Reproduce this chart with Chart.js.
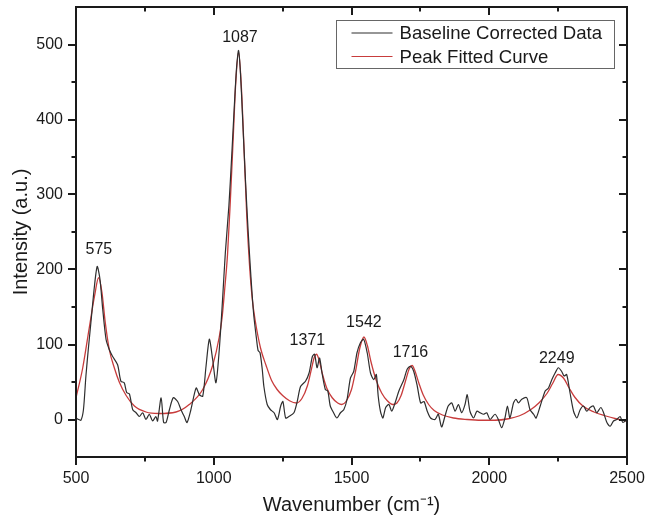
<!DOCTYPE html>
<html>
<head>
<meta charset="utf-8">
<script src="https://cdn.jsdelivr.net/npm/chart.js@4"></script>
<style>
  html, body { margin: 0; padding: 0; background: #fff; }
  #wrap { width: 645px; height: 519px; }
</style>
</head>
<body>
<div id="wrap"><canvas id="myChart" width="645" height="519"></canvas></div>
<script>
// measured spectrum (baseline corrected)
const dataWavenumber = [500, 510, 518, 527, 536, 545, 554, 567, 577, 587, 597, 609, 621, 633, 651, 663, 675, 684, 694, 706,
  718, 730, 742, 754, 766, 778, 790, 796, 809, 818, 827, 839, 853, 869, 881, 893, 903, 917, 936, 948,
  960, 972, 984, 996, 1008, 1020, 1032, 1042, 1055, 1065, 1075, 1083, 1090, 1097, 1105, 1115, 1125, 1135, 1145, 1155,
  1161, 1168, 1176, 1182, 1194, 1206, 1219, 1231, 1243, 1251, 1261, 1273, 1291, 1303, 1315, 1333, 1346, 1358, 1366, 1375,
  1384, 1393, 1405, 1414, 1423, 1435, 1447, 1460, 1472, 1484, 1496, 1508, 1520, 1532, 1544, 1557, 1569, 1581, 1590, 1597,
  1605, 1614, 1624, 1636, 1646, 1658, 1672, 1690, 1702, 1714, 1726, 1739, 1751, 1763, 1775, 1787, 1803, 1815, 1827, 1839,
  1851, 1864, 1876, 1888, 1900, 1912, 1920, 1930, 1943, 1955, 1967, 1979, 1991, 2003, 2021, 2033, 2045, 2057, 2066, 2075,
  2088, 2097, 2106, 2118, 2136, 2148, 2161, 2170, 2185, 2203, 2215, 2227, 2239, 2251, 2263, 2272, 2281, 2293, 2306, 2318,
  2330, 2342, 2354, 2366, 2378, 2390, 2405, 2415, 2427, 2439, 2451, 2463, 2475, 2485, 2500];
const dataIntensity = [2, 0, -1, 13, 58, 95, 129, 178, 204, 187, 147, 107, 93, 84, 73, 51, 49, 36, 34, 13,
  9, 4, 9, 0, 7, -2, 4, -2, 29, -4, -4, 13, 29, 24, 13, 4, -4, 13, 42, 33,
  31, 71, 107, 80, 49, 93, 160, 222, 285, 350, 420, 470, 492, 462, 400, 320, 250, 190, 140, 108,
  92, 89, 67, 44, 20, 13, 9, 0, 18, 24, 2, 4, 9, 24, 44, 51, 62, 84, 87, 69,
  82, 62, 40, 38, 18, 9, 2, 9, 13, 27, 55, 64, 89, 102, 107, 89, 62, 53, 60, 31,
  11, 2, 16, 20, 11, 22, 38, 53, 67, 71, 64, 44, 22, 24, 11, 2, 0, 7, -10, 4,
  18, 22, 11, 20, 9, 20, 33, 11, 2, 11, 9, 7, 9, 0, 7, 0, -11, 2, 18, 2,
  22, 27, 22, 27, 29, 13, 7, 2, 18, 38, 42, 53, 62, 69, 64, 58, 60, 36, 11, 2,
  13, 18, 11, 16, 18, 9, 16, 9, -4, -9, -2, 0, 4, -4, 0];

// peak fitted curve
const fitWavenumber = [500, 524, 548, 567, 582, 594, 606, 621, 639, 657, 682, 712, 754, 800, 863, 911, 960, 996, 1020, 1030,
  1040, 1050, 1060, 1070, 1080, 1090, 1100, 1110, 1120, 1130, 1140, 1150, 1170, 1190, 1210, 1230, 1250, 1275, 1300, 1320,
  1340, 1355, 1365, 1373, 1382, 1395, 1410, 1430, 1450, 1465, 1480, 1500, 1515, 1530, 1545, 1558, 1570, 1590, 1610, 1630,
  1650, 1665, 1680, 1695, 1710, 1720, 1730, 1745, 1760, 1780, 1800, 1830, 1870, 1920, 1970, 2020, 2070, 2110, 2150, 2180,
  2210, 2230, 2250, 2270, 2290, 2310, 2340, 2380, 2420, 2460, 2500];
const fitIntensity = [29, 68, 122, 164, 189, 170, 130, 93, 69, 50, 32, 18, 10, 8, 10, 20, 40, 72, 110, 135,
  175, 220, 290, 370, 450, 490, 445, 360, 270, 205, 160, 133, 95, 72, 52, 40, 32, 25, 22, 28,
  45, 68, 83, 87, 80, 60, 42, 29, 22, 20, 24, 40, 65, 95, 110, 98, 78, 52, 35, 25,
  20, 22, 32, 50, 68, 72, 65, 48, 33, 20, 12, 6, 2, 0, -1, -1, 1, 5, 13, 22,
  35, 48, 60, 55, 42, 30, 18, 10, 5, 1, -2];

// peak annotations
const peakLabels = ['575', '1087', '1371', '1542', '1716', '2249'];
const peakLabelX = [583, 1095, 1340, 1545, 1714, 2245];
const peakLabelY = [221, 503, 99, 123, 84, 76];

// axes
const xMajorTicks = [500, 1000, 1500, 2000, 2500];
const xMinorTicks = [750, 1250, 1750, 2250];
const yMajorTicks = [0, 100, 200, 300, 400, 500];
const yMinorTicks = [50, 150, 250, 350, 450];

const FONT = '"Liberation Sans", Arial, sans-serif';

const toPoints = (xs, ys) => xs.map((v, i) => ({x: v, y: ys[i]}));

// no extra room for edge labels, the plot box is set by layout padding
const noEdgePadding = s => {
    s.paddingLeft = 0; s.paddingRight = 0; s.paddingTop = 0; s.paddingBottom = 0;
};

// frame + ticks on all four sides
const framePlugin = {
    id: 'frame',
    afterDraw(chart) {
        const {ctx, chartArea: a, scales: {x, y}} = chart;
        ctx.save();
        ctx.strokeStyle = '#1a1a1a';
        ctx.lineWidth = 2;
        ctx.strokeRect(a.left, a.top, a.right - a.left, a.bottom - a.top);
        const maj = 8, min = 4.5;
        ctx.beginPath();
        const xt = (v, len) => {
            const px = Math.round(x.getPixelForValue(v));
            ctx.moveTo(px, a.bottom); ctx.lineTo(px, a.bottom + len);
            ctx.moveTo(px, a.top); ctx.lineTo(px, a.top + len);
        };
        const yt = (v, len) => {
            const py = Math.round(y.getPixelForValue(v));
            ctx.moveTo(a.left, py); ctx.lineTo(a.left - len, py);
            ctx.moveTo(a.right, py); ctx.lineTo(a.right - len, py);
        };
        xMajorTicks.forEach(v => xt(v, maj));
        xMinorTicks.forEach(v => xt(v, min));
        yMajorTicks.forEach(v => yt(v, maj));
        yMinorTicks.forEach(v => yt(v, min));
        ctx.stroke();
        ctx.restore();
    }
};

// peak numbers
const peakPlugin = {
    id: 'peaks',
    afterDatasetsDraw(chart) {
        const {ctx, scales: {x, y}} = chart;
        ctx.save();
        ctx.font = '16px ' + FONT;
        ctx.fillStyle = '#1a1a1a';
        ctx.textAlign = 'center';
        ctx.textBaseline = 'alphabetic';
        peakLabels.forEach((t, i) => {
            ctx.fillText(t, x.getPixelForValue(peakLabelX[i]), y.getPixelForValue(peakLabelY[i]));
        });
        ctx.restore();
    }
};

// boxed legend in the upper right corner
const boxLegend = {
    id: 'boxLegend',
    afterDraw(chart) {
        const {ctx, chartArea: a} = chart;
        const right = a.right - 14, top = a.top + 12.5;
        const left = right - 277.5, h = 47.5;
        ctx.save();
        ctx.strokeStyle = '#666';
        ctx.lineWidth = 1;
        ctx.strokeRect(Math.round(left) + 0.5, Math.round(top) + 0.5, Math.round(right - left), Math.round(h));
        ctx.font = '18.6px ' + FONT;
        ctx.textBaseline = 'middle';
        ctx.textAlign = 'left';
        chart.data.datasets.forEach((ds, i) => {
            const cy = top + 13.5 + i * 23.5;
            ctx.strokeStyle = ds.borderColor;
            ctx.lineWidth = 1.2;
            ctx.beginPath();
            ctx.moveTo(left + 16, cy);
            ctx.lineTo(left + 57, cy);
            ctx.stroke();
            ctx.fillStyle = '#1a1a1a';
            ctx.fillText(ds.label, left + 64, cy + 1);
        });
        ctx.restore();
    }
};

const ctx = document.getElementById('myChart').getContext('2d');
new Chart(ctx, {
    type: 'line',
    data: {
        datasets: [{
            label: 'Baseline Corrected Data',
            data: toPoints(dataWavenumber, dataIntensity),
            borderColor: '#2e2e2e',
            borderWidth: 1.2,
            pointRadius: 0,
            tension: 0.25,
            fill: false
        }, {
            label: 'Peak Fitted Curve',
            data: toPoints(fitWavenumber, fitIntensity),
            borderColor: '#c83c3c',
            borderWidth: 1.3,
            pointRadius: 0,
            cubicInterpolationMode: 'monotone',
            fill: false
        }]
    },
    options: {
        responsive: false,
        animation: false,
        layout: { padding: { left: 0, right: 18, top: 7, bottom: 0 } },
        plugins: {
            legend: { display: false },
            tooltip: { enabled: false }
        },
        scales: {
            x: {
                type: 'linear',
                min: 500,
                max: 2500,
                afterBuildTicks: s => { s.ticks = xMajorTicks.map(v => ({value: v})); },
                afterFit: s => { s.height = 62; noEdgePadding(s); },
                grid: { display: false, drawTicks: false },
                border: { display: false },
                ticks: {
                    padding: 12, color: '#1a1a1a', font: { family: FONT, size: 16 }, maxRotation: 0,
                    callback: v => String(v)
                },
                title: {
                    display: true,
                    text: 'Wavenumber (cm⁻¹)',
                    color: '#1a1a1a',
                    font: { family: FONT, size: 20 },
                    padding: { top: 0, bottom: 2 }
                }
            },
            y: {
                min: -50,
                max: 550,
                afterBuildTicks: s => { s.ticks = yMajorTicks.map(v => ({value: v})); },
                afterFit: s => { s.width = 76; noEdgePadding(s); },
                grid: { display: false, drawTicks: false },
                border: { display: false },
                ticks: {
                    padding: 13, color: '#1a1a1a', font: { family: FONT, size: 16 },
                    callback: v => String(v)
                },
                title: {
                    display: true,
                    text: 'Intensity (a.u.)',
                    color: '#1a1a1a',
                    font: { family: FONT, size: 20 },
                    padding: { top: 9, bottom: 0 }
                }
            }
        }
    },
    plugins: [framePlugin, peakPlugin, boxLegend]
});
</script>
</body>
</html>
